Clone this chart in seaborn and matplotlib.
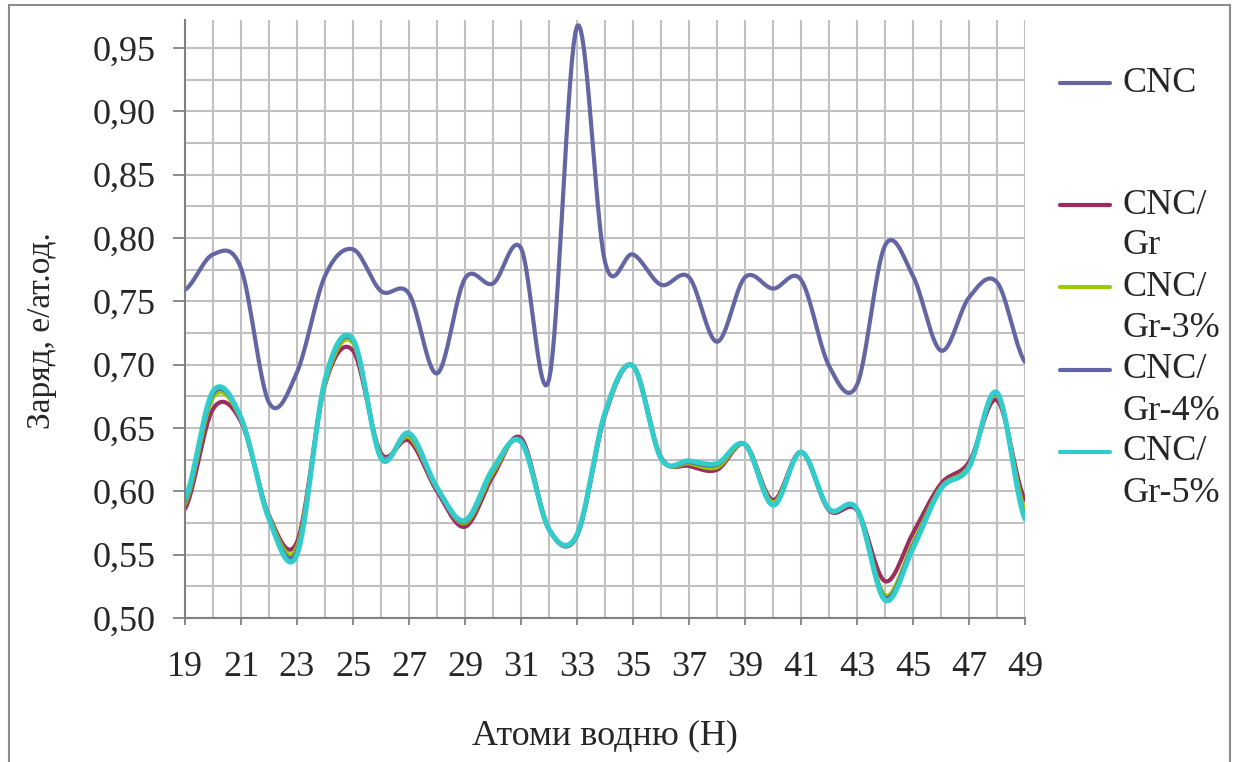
import numpy as np
import pandas as pd
import seaborn as sns
import matplotlib
matplotlib.use("Agg")
import matplotlib.pyplot as plt
from matplotlib.lines import Line2D
from matplotlib.patches import Rectangle
from matplotlib.ticker import FuncFormatter

sns.set_theme(style="white")
plt.rcParams['font.family'] = ['Liberation Serif', 'DejaVu Serif']

# дані: атоми водню 19..49
atoms = list(range(19, 50))

cnc = [0.759, 0.787, 0.776, 0.670, 0.694, 0.770, 0.791, 0.758, 0.756, 0.693,
       0.768, 0.764, 0.792, 0.688, 0.967, 0.781, 0.787, 0.763, 0.769, 0.718,
       0.769, 0.760, 0.767, 0.699, 0.684, 0.794, 0.770, 0.711, 0.753, 0.765, 0.702]

cnc_gr = [0.586, 0.665, 0.655, 0.581, 0.560, 0.684, 0.711, 0.630, 0.640, 0.600,
          0.572, 0.612, 0.642, 0.570, 0.565, 0.660, 0.699, 0.627, 0.620, 0.617,
          0.637, 0.593, 0.631, 0.585, 0.585, 0.529, 0.567, 0.606, 0.623, 0.672, 0.593]

cnc_gr3 = [0.590, 0.674, 0.657, 0.580, 0.556, 0.685, 0.717, 0.628, 0.643, 0.602,
           0.575, 0.615, 0.640, 0.570, 0.565, 0.661, 0.699, 0.626, 0.622, 0.619,
           0.637, 0.591, 0.631, 0.586, 0.586, 0.518, 0.559, 0.603, 0.620, 0.676, 0.585]

cnc_gr4 = [0.592, 0.677, 0.658, 0.579, 0.553, 0.687, 0.719, 0.627, 0.645, 0.602,
           0.576, 0.617, 0.640, 0.570, 0.565, 0.662, 0.699, 0.626, 0.623, 0.621,
           0.637, 0.589, 0.631, 0.586, 0.586, 0.516, 0.557, 0.602, 0.619, 0.677, 0.580]

cnc_gr5 = [0.594, 0.679, 0.658, 0.578, 0.550, 0.688, 0.720, 0.626, 0.646, 0.603,
           0.577, 0.618, 0.639, 0.570, 0.566, 0.662, 0.699, 0.626, 0.624, 0.622,
           0.637, 0.589, 0.631, 0.586, 0.586, 0.514, 0.555, 0.602, 0.619, 0.678, 0.578]

names = ["CNC", "CNC/Gr", "CNC/Gr-3%", "CNC/Gr-4%", "CNC/Gr-5%"]
series = [cnc, cnc_gr, cnc_gr3, cnc_gr4, cnc_gr5]
colors = ["#6466A3", "#9B2D5F", "#9ACD00", "#6466A3", "#33CCCC"]


# згладжена лінія як в Excel (Catmull-Rom)
def smooth(x, y, n=16):
    x = np.asarray(x, float)
    y = np.asarray(y, float)
    yp = np.r_[y[0], y, y[-1]]
    m = (yp[2:] - yp[:-2]) / 2
    t = np.linspace(0, 1, n, endpoint=False)
    h00 = 2 * t**3 - 3 * t**2 + 1
    h10 = t**3 - 2 * t**2 + t
    h01 = -2 * t**3 + 3 * t**2
    h11 = t**3 - t**2
    xs, ys = [], []
    for i in range(len(x) - 1):
        xs.append(x[i] + t * (x[i + 1] - x[i]))
        ys.append(h00 * y[i] + h10 * m[i] + h01 * y[i + 1] + h11 * m[i + 1])
    xs.append([x[-1]])
    ys.append([y[-1]])
    return np.concatenate(xs), np.concatenate(ys)


frames = []
for name, vals in zip(names, series):
    sx, sy = smooth(atoms, vals)
    frames.append(pd.DataFrame({"atom": sx, "charge": sy, "series": name}))
df = pd.concat(frames, ignore_index=True)

W, H = 1238, 762
fig = plt.figure(figsize=(W / 100, H / 100), dpi=100)
ax = fig.add_axes([185 / W, 1 - 618 / H, 840 / W, 598 / H])

sns.lineplot(data=df, x="atom", y="charge", hue="series", hue_order=names,
             palette=dict(zip(names, colors)), linewidth=3, estimator=None,
             sort=False, legend=False, ax=ax)
ax.lines[-1].set_linewidth(3.6)

ax.set_xlim(19, 49)
ax.set_ylim(0.5, 0.972)
ax.set_xticks(range(19, 50, 2))
ax.set_xticks(range(19, 50), minor=True)
ax.set_yticks(np.arange(0.50, 0.96, 0.05))
ax.set_yticks(np.arange(0.50, 0.97, 0.025), minor=True)
ax.yaxis.set_major_formatter(FuncFormatter(lambda v, _: f"{v:.2f}".replace(".", ",")))

ax.set_axisbelow(True)
ax.grid(which="both", color="#c0c0c0", linewidth=1.5)
ax.tick_params(which="minor", length=0)
ax.tick_params(axis="y", which="major", direction="out", length=9, width=1.3,
               color="#808080", pad=12, labelsize=26, left=True)
ax.tick_params(axis="x", which="major", direction="out", length=5, width=1.3,
               color="#808080", pad=19, labelsize=26, bottom=True)

for s in ["top", "right"]:
    ax.spines[s].set_visible(False)
for s in ["left", "bottom"]:
    ax.spines[s].set_color("#808080")
    ax.spines[s].set_linewidth(1.5)

ax.set_xlabel("Атоми водню (Н)", fontsize=26)
ax.set_ylabel("Заряд, е/ат.од.", fontsize=24)
ax.xaxis.set_label_coords(0.5, -0.17)
ax.yaxis.set_label_coords(-0.152, 0.48)

# легенда
leg_y = [83, 205, 287, 370, 452]
for name, col, yy in zip(names, colors, leg_y):
    fy = 1 - yy / H
    fig.add_artist(Line2D([1060 / W, 1110 / W], [fy, fy], color=col, lw=3,
                          transform=fig.transFigure))
    parts = name.split("/")
    if len(parts) == 1:
        fig.text(1122 / W, fy, name, fontsize=26, va="center", ha="left")
    else:
        fig.text(1122 / W, fy, parts[0] + "/", fontsize=26, va="center", ha="left")
        fig.text(1122 / W, 1 - (yy + 41) / H, parts[1], fontsize=26, va="center", ha="left")

fig.add_artist(Rectangle((9 / W, -0.01), 1221 / W, 1.01 - 5 / H, fill=False,
                         edgecolor="#8c8c8c", lw=1.5, transform=fig.transFigure))

fig.savefig("out.png", dpi=100)
